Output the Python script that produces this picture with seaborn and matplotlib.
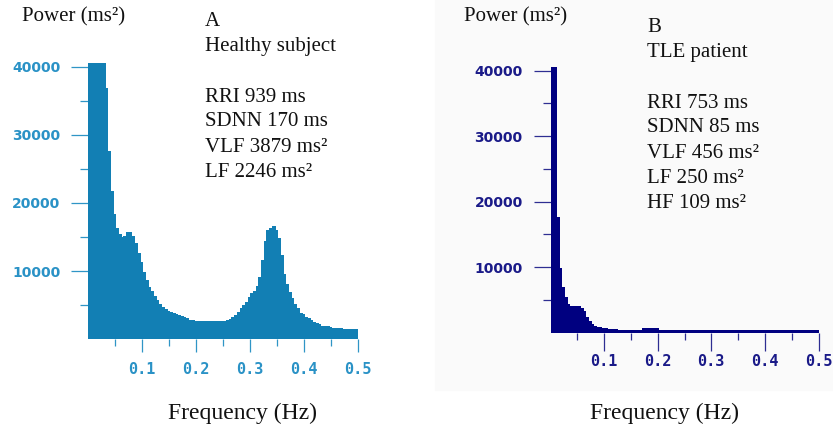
import matplotlib
matplotlib.use("Agg")
import matplotlib.pyplot as plt
import numpy as np
import pandas as pd
import seaborn as sns
from matplotlib.patches import Rectangle

# spectra, one value per 0.005 Hz bin from 0 to 0.5 Hz
BIN_WIDTH = 0.005
HEALTHY_POWER = [
    40500, 40500, 40500, 40500, 40500, 40500, 36800, 27600, 21800, 18400,
    16300, 15400, 15000, 15200, 15800, 15800, 15200, 14200, 12700, 11300,
    9900, 8700, 7700, 7100, 6400, 5800, 5200, 4800, 4500, 4200,
    4000, 3800, 3700, 3500, 3400, 3200, 3100, 2900, 2800, 2700,
    2650, 2650, 2700, 2750, 2750, 2750, 2700, 2650, 2650, 2650,
    2700, 2850, 3000, 3200, 3600, 4000, 4600, 5000, 5500, 6200,
    6800, 7100, 7800, 9200, 11700, 14400, 16100, 16300, 16600, 16100,
    14900, 12400, 9600, 8100, 7000, 6000, 5200, 4600, 3900, 3700,
    3300, 3100, 2800, 2600, 2350, 2200, 2000, 1900, 1900, 1750,
    1700, 1700, 1600, 1600, 1500, 1500, 1500, 1500, 1500, 1500,
]
TLE_POWER = [
    40500, 40500, 17600, 9800, 7000, 5400, 4400, 4000, 4000, 4100,
    4100, 3800, 3300, 2400, 1800, 1300, 1000, 900, 800, 700,
    650, 550, 500, 500, 500, 450, 420, 420, 410, 400,
    400, 400, 400, 400, 650, 700, 700, 700, 700, 650,
    400, 400, 400, 400, 400, 400, 400, 400, 400, 400,
    400, 400, 400, 400, 400, 400, 400, 400, 400, 400,
    400, 400, 400, 400, 400, 400, 400, 400, 400, 400,
    400, 400, 400, 400, 400, 400, 400, 400, 400, 400,
    400, 400, 400, 400, 400, 400, 400, 400, 400, 400,
    400, 400, 400, 400, 400, 400, 400, 400, 400, 400,
]

Y_MAJOR = [10000, 20000, 30000, 40000]
Y_MINOR = [5000, 15000, 25000, 35000]
Y_LABELS = ["10000", "20000", "30000", "40000"]
X_MAJOR = [0.1, 0.2, 0.3, 0.4, 0.5]
X_MINOR = [0.05, 0.15, 0.25, 0.35, 0.45]
X_LABELS = ["0.1", "0.2", "0.3", "0.4", "0.5"]

HEALTHY_TEXT = ["A", "Healthy subject", "", "RRI 939 ms", "SDNN 170 ms",
                "VLF 3879 ms²", "LF 2246 ms²"]
TLE_TEXT = ["B", "TLE patient", "", "RRI 753 ms", "SDNN 85 ms",
            "VLF 456 ms²", "LF 250 ms²", "HF 109 ms²"]

W, H = 833, 426
SERIF = "Liberation Serif"

sns.set_style("white")
plt.rcParams["font.family"] = ["DejaVu Sans"]

fig = plt.figure(figsize=(W / 100, H / 100), dpi=100)
# faint grey sheet behind panel B
fig.patches.append(Rectangle((435 / W, 36 / H), 1 - 435 / W, 1 - 36 / H,
                             transform=fig.transFigure, color="#fafafa",
                             zorder=-5))


def px_axes(x0, x1, y0, y1):
    ''' Axes from pixel box (left, right, bottom, top) of the picture. '''
    return fig.add_axes([x0 / W, (H - y0) / H, (x1 - x0) / W, (y0 - y1) / H])


def spectrum(ax, power, fill, tick, label, tick_len, xpad):
    freq = (np.arange(len(power)) + 0.5) * BIN_WIDTH
    df = pd.DataFrame({"freq": freq, "power": power})
    # same-colour edges close the 1 px seams between neighbouring bars
    sns.histplot(data=df, x="freq", weights="power", binwidth=BIN_WIDTH,
                 binrange=(0, len(power) * BIN_WIDTH), element="bars",
                 fill=True, color=fill, alpha=1, edgecolor=fill,
                 linewidth=0.7, antialiased=False, ax=ax)
    ax.set_xlim(0, 0.5)
    ax.set_ylim(0, 40600)
    ax.patch.set_alpha(0)
    for s in ax.spines.values():
        s.set_visible(False)
    ax.set_xlabel("")
    ax.set_ylabel("")
    ax.set_yticks(Y_MAJOR)
    ax.set_yticks(Y_MINOR, minor=True)
    ax.set_xticks(X_MAJOR)
    ax.set_xticks(X_MINOR, minor=True)
    ax.set_yticklabels(Y_LABELS, fontweight="bold", fontsize=10,
                       color=label)
    ax.set_xticklabels(X_LABELS, fontfamily="DejaVu Sans Mono",
                       fontweight="bold", fontsize=11, color=label)
    ax.tick_params(axis="y", which="major", length=12, width=0.9,
                   color=tick, pad=8, left=True)
    ax.tick_params(axis="y", which="minor", length=6, width=0.9,
                   color=tick, left=True)
    ax.tick_params(axis="x", which="major", length=tick_len, width=0.9,
                   color=tick, pad=xpad, bottom=True)
    ax.tick_params(axis="x", which="minor", length=5, width=0.9,
                   color=tick, bottom=True)


ax_a = px_axes(88.3, 358.3, 339.3, 62.6)
spectrum(ax_a, HEALTHY_POWER, "#127fb4", "#2f95c6", "#2a92c6", 9.5, 6.5)

ax_b = px_axes(550.5, 818.5, 332.7, 66.6)
spectrum(ax_b, TLE_POWER, "#000080", "#2e2e92", "#1a1a88", 13, 2.5)


def put(x, y, s, size=15, ha="left"):
    fig.text(x / W, 1 - y / H, s, fontsize=size, family=SERIF,
             ha=ha, va="center", color="#111111")


put(22, 17, "Power (ms²)")
put(464, 17, "Power (ms²)")
for i, line in enumerate(HEALTHY_TEXT):
    put(205, 22 + 25 * i, line)
for i, line in enumerate(TLE_TEXT):
    put(647, 28 + 25 * i, line)
put(242, 413, "Frequency (Hz)", size=17, ha="center")
put(665, 413, "Frequency (Hz)", size=17, ha="center")

fig.savefig("out.png", dpi=100)
